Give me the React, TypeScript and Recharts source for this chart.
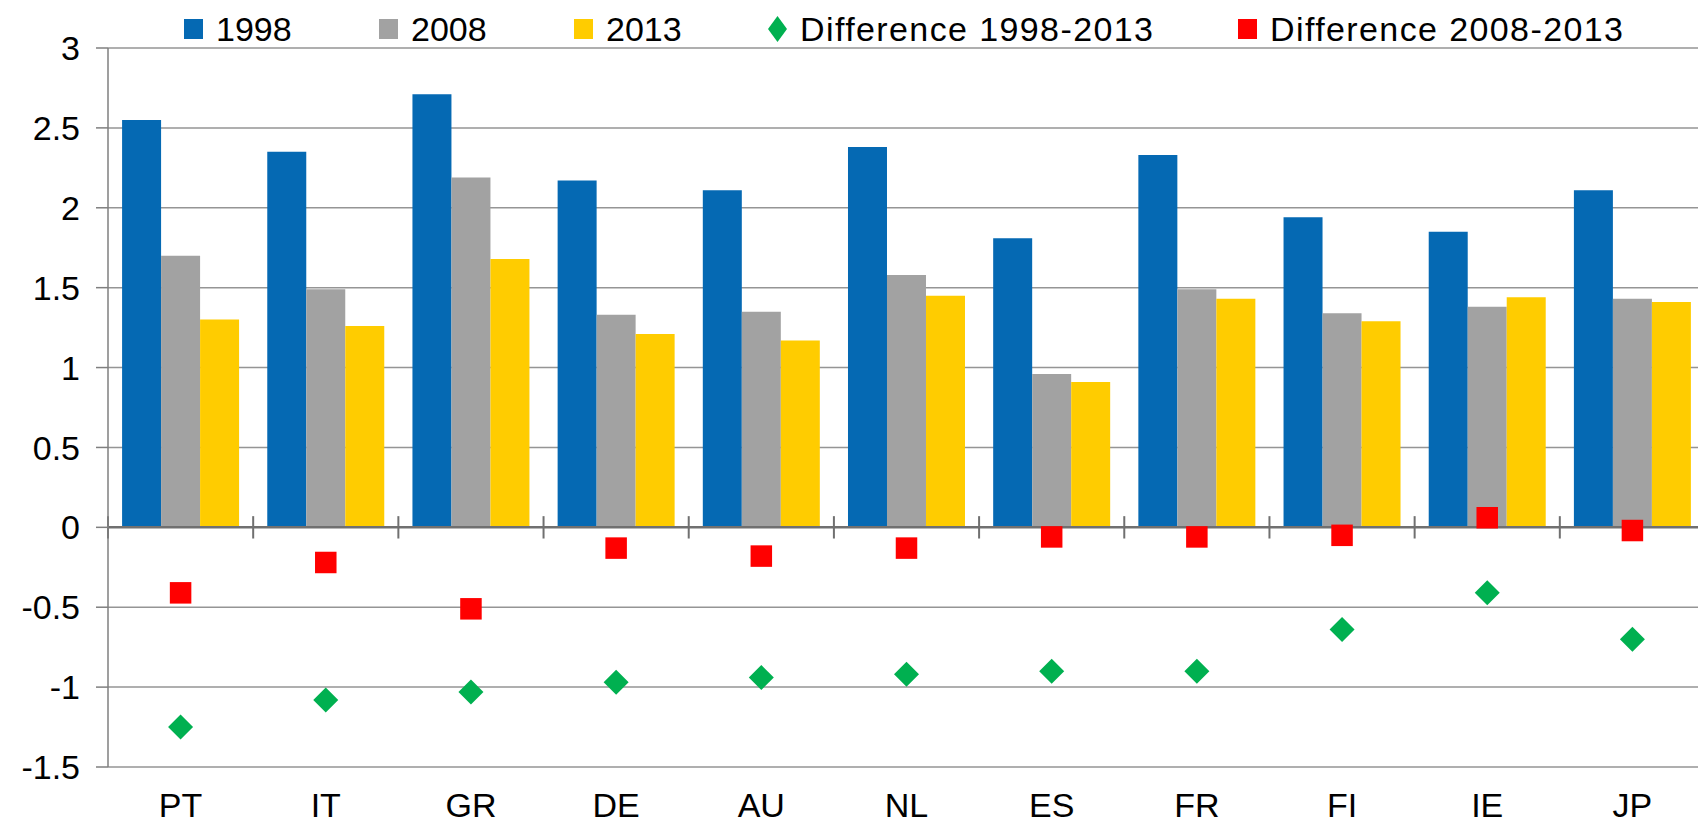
import React from "react";
import { ComposedChart, Bar, Line, XAxis, YAxis, CartesianGrid, ReferenceLine } from "recharts";

const countries = ["PT", "IT", "GR", "DE", "AU", "NL", "ES", "FR", "FI", "IE", "JP"];
const values1998 = [2.55, 2.35, 2.71, 2.17, 2.11, 2.38, 1.81, 2.33, 1.94, 1.85, 2.11];
const values2008 = [1.7, 1.49, 2.19, 1.33, 1.35, 1.58, 0.96, 1.49, 1.34, 1.38, 1.43];
const values2013 = [1.3, 1.26, 1.68, 1.21, 1.17, 1.45, 0.91, 1.43, 1.29, 1.44, 1.41];
const diff1998to2013 = [-1.25, -1.08, -1.03, -0.97, -0.94, -0.92, -0.9, -0.9, -0.64, -0.41, -0.7];
const diff2008to2013 = [-0.41, -0.22, -0.51, -0.13, -0.18, -0.13, -0.06, -0.06, -0.05, 0.06, -0.02];
const yTicks = [-1.5, -1, -0.5, 0, 0.5, 1, 1.5, 2, 2.5, 3];

const COLORS = {
  y1998: "#0569B3",
  y2008: "#A2A2A2",
  y2013: "#FFCC00",
  diffA: "#00B050",
  diffB: "#FF0000",
};

const data = countries.map((c, i) => ({
  country: c,
  v1998: values1998[i],
  v2008: values2008[i],
  v2013: values2013[i],
  d1: diff1998to2013[i],
  d2: diff2008to2013[i],
}));

const FONT = "'Liberation Sans', Arial, sans-serif";
const TICK_HALF = 0.07; // half length of the cross ticks on the zero line, in value units

function Diamond(props: any) {
  const { cx, cy } = props;
  if (typeof cx !== "number" || typeof cy !== "number") return null;
  const r = 12.5;
  return (
    <polygon
      points={`${cx},${cy - r} ${cx + r},${cy} ${cx},${cy + r} ${cx - r},${cy}`}
      fill={COLORS.diffA}
    />
  );
}

function Square(props: any) {
  const { cx, cy } = props;
  if (typeof cx !== "number" || typeof cy !== "number") return null;
  const s = 21.5;
  return <rect x={cx - s / 2} y={cy - s / 2} width={s} height={s} fill={COLORS.diffB} />;
}

const legendItems = [
  { label: "1998", color: COLORS.y1998, kind: "square", left: 184, spacing: 0 },
  { label: "2008", color: COLORS.y2008, kind: "square", left: 379, spacing: 0 },
  { label: "2013", color: COLORS.y2013, kind: "square", left: 574, spacing: 0 },
  { label: "Difference 1998-2013", color: COLORS.diffA, kind: "diamond", left: 768, spacing: 1.4 },
  { label: "Difference 2008-2013", color: COLORS.diffB, kind: "square", left: 1238, spacing: 1.4 },
];

export default function App() {
  const last = countries[countries.length - 1];
  return (
    <div
      style={{
        position: "absolute",
        left: 0,
        top: 0,
        width: 1698,
        height: 823,
        overflow: "hidden",
        background: "#fff",
        fontFamily: FONT,
      }}
    >
      <ComposedChart
        width={1710}
        height={823}
        data={data}
        margin={{ top: 48, right: 5, bottom: 6, left: 0 }}
        barCategoryGap="9.7%"
        barGap={0}
      >
        <CartesianGrid vertical={false} stroke="#959595" strokeWidth={1.5} />
        <XAxis
          dataKey="country"
          axisLine={false}
          tickLine={false}
          height={50}
          tickMargin={20}
          tick={{ fill: "#000", fontSize: 34, fontFamily: FONT }}
          interval={0}
        />
        <YAxis
          domain={[-1.5, 3]}
          ticks={yTicks}
          width={108}
          tickSize={12}
          tickMargin={16}
          axisLine={{ stroke: "#7f7f7f", strokeWidth: 1.5 }}
          tickLine={{ stroke: "#7f7f7f", strokeWidth: 1.5 }}
          tick={{ fill: "#000", fontSize: 34, fontFamily: FONT }}
          interval={0}
        />
        <Bar dataKey="v1998" fill={COLORS.y1998} isAnimationActive={false} />
        <Bar dataKey="v2008" fill={COLORS.y2008} isAnimationActive={false} />
        <Bar dataKey="v2013" fill={COLORS.y2013} isAnimationActive={false} />
        <ReferenceLine y={0} stroke="#707070" strokeWidth={2.5} />
        {countries.map((c) => (
          <ReferenceLine
            key={c}
            position="start"
            segment={[
              { x: c, y: TICK_HALF },
              { x: c, y: -TICK_HALF },
            ]}
            stroke="#707070"
            strokeWidth={2}
            ifOverflow="visible"
          />
        ))}
        <ReferenceLine
          position="end"
          segment={[
            { x: last, y: TICK_HALF },
            { x: last, y: -TICK_HALF },
          ]}
          stroke="#707070"
          strokeWidth={2}
          ifOverflow="visible"
        />
        <Line
          dataKey="d1"
          stroke="none"
          dot={<Diamond />}
          activeDot={false}
          isAnimationActive={false}
        />
        <Line
          dataKey="d2"
          stroke="none"
          dot={<Square />}
          activeDot={false}
          isAnimationActive={false}
        />
      </ComposedChart>

      {legendItems.map((it) => (
        <div
          key={it.label}
          style={{
            position: "absolute",
            left: it.left,
            top: 9,
            height: 40,
            display: "flex",
            alignItems: "center",
            fontSize: 34,
            color: "#000",
            whiteSpace: "nowrap",
          }}
        >
          {it.kind === "square" ? (
            <span style={{ width: 19, height: 20, background: it.color, display: "inline-block" }} />
          ) : (
            <svg width={19} height={26} style={{ display: "block" }}>
              <polygon points="9.5,0 19,13 9.5,26 0,13" fill={it.color} />
            </svg>
          )}
          <span style={{ marginLeft: 13, letterSpacing: it.spacing }}>{it.label}</span>
        </div>
      ))}
    </div>
  );
}
